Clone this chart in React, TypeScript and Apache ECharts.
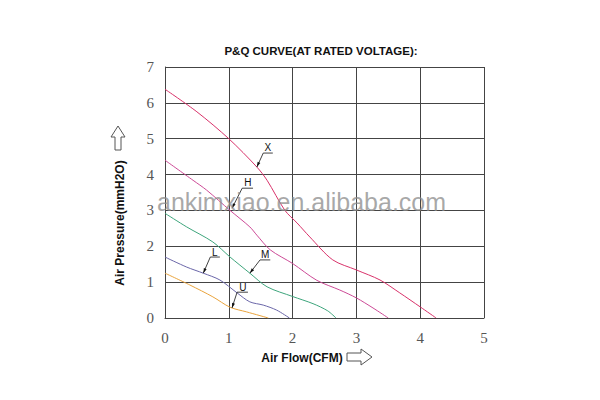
import React, { useEffect, useRef } from "react";
import * as echarts from "echarts";

const xTicks = [0, 1, 2, 3, 4, 5];
const yTicks = [0, 1, 2, 3, 4, 5, 6, 7];

const curveX: [number, number][] = [
  [0, 6.38], [0.5, 5.75], [1.0, 5.0], [1.44, 4.21], [1.6, 3.84], [1.88, 3.0], [2.07, 2.65],
  [2.27, 2.26], [2.63, 1.62], [3.0, 1.34], [3.37, 1.06], [3.68, 0.7], [4.0, 0.31], [4.25, 0.0],
];
const curveH: [number, number][] = [
  [0, 4.4], [0.44, 3.84], [0.65, 3.57], [1.02, 3.0], [1.33, 2.54], [1.44, 2.31], [1.65, 1.9],
  [2.0, 1.52], [2.38, 1.05], [2.74, 0.78], [3.0, 0.56], [3.26, 0.28], [3.5, 0.0],
];
const curveM: [number, number][] = [
  [0, 2.92], [0.34, 2.54], [0.75, 2.12], [1.02, 1.7], [1.33, 1.25], [1.6, 0.87], [2.0, 0.6],
  [2.32, 0.4], [2.55, 0.2], [2.68, 0.0],
];
const curveL: [number, number][] = [
  [0, 1.7], [0.34, 1.42], [0.6, 1.25], [0.86, 1.06], [1.13, 0.7], [1.33, 0.45], [1.54, 0.36],
  [1.75, 0.22], [1.95, 0.0],
];
const curveU: [number, number][] = [
  [0, 1.25], [0.39, 0.92], [0.75, 0.59], [1.02, 0.3], [1.28, 0.17], [1.62, 0.0],
];

const seriesNames = ["X", "H", "M", "L", "U"];
const seriesColors = ["#d8326a", "#cc4a96", "#3ea57c", "#6a66a8", "#e9a33c"];
const seriesData = [curveX, curveH, curveM, curveL, curveU];

// Annotation leaders in data units: anchor on curve, elbow, end; label position
const leaderAnchors: [number, number][] = [[1.44, 4.21], [1.05, 3.06], [1.33, 1.25], [0.6, 1.25], [1.05, 0.28]];
const leaderElbows: [number, number][] = [[1.54, 4.6], [1.21, 3.62], [1.49, 1.62], [0.71, 1.7], [1.13, 0.72]];
const leaderEnds: [number, number][] = [[1.69, 4.6], [1.38, 3.62], [1.65, 1.62], [0.86, 1.7], [1.3, 0.72]];
const labelPositions: [number, number][] = [[1.61, 4.76], [1.3, 3.78], [1.57, 1.76], [0.78, 1.84], [1.22, 0.86]];

export default function App() {
  const ref = useRef<HTMLDivElement>(null);
  useEffect(() => {
    if (!ref.current) return;
    const chart = echarts.init(ref.current, null, { renderer: "svg" });
    const option: any = {
      animation: false,
      backgroundColor: "#ffffff",
      title: {
        text: "P&Q CURVE(AT RATED VOLTAGE):",
        left: 316,
        top: 40,
        textAlign: "center",
        textStyle: { fontFamily: "Liberation Sans", fontWeight: "bold", fontSize: 11.5, color: "#111" },
      },
      grid: { left: 165, right: 116, top: 67, bottom: 82 },
      xAxis: {
        type: "value",
        min: 0,
        max: 5,
        interval: 1,
        axisLine: { show: true, lineStyle: { color: "#444", width: 1 } },
        axisTick: { show: false },
        splitLine: { show: true, lineStyle: { color: "#444", width: 1 } },
        axisLabel: {
          margin: 12,
          fontFamily: "Liberation Serif",
          fontSize: 15,
          color: "#555",
          formatter: (v: number) => (xTicks.includes(v) ? String(v) : ""),
        },
      },
      yAxis: {
        type: "value",
        min: 0,
        max: 7,
        interval: 1,
        axisLine: { show: true, lineStyle: { color: "#444", width: 1 } },
        axisTick: { show: false },
        splitLine: { show: true, lineStyle: { color: "#444", width: 1 } },
        axisLabel: {
          margin: 11,
          fontFamily: "Liberation Serif",
          fontSize: 15,
          color: "#555",
          formatter: (v: number) => (yTicks.includes(v) ? String(v) : ""),
        },
      },
      series: seriesNames.map((n, i) => ({
        name: n,
        type: "line",
        data: seriesData[i],
        smooth: 0.3,
        showSymbol: false,
        lineStyle: { color: seriesColors[i], width: 1 },
        z: 3,
      })),
    };
    chart.setOption(option);

    const px = (p: [number, number]) => chart.convertToPixel({ gridIndex: 0 }, p) as number[];
    const graphics: any[] = [];
    seriesNames.forEach((n, i) => {
      const a = px(leaderAnchors[i]);
      const e = px(leaderElbows[i]);
      const d = px(leaderEnds[i]);
      const l = px(labelPositions[i]);
      graphics.push({
        type: "polyline",
        shape: { points: [a, e, d] },
        style: { stroke: "#111", lineWidth: 0.8, fill: null },
        z: 10,
      });
      const dx = e[0] - a[0];
      const dy = e[1] - a[1];
      const len = Math.sqrt(dx * dx + dy * dy);
      const ux = dx / len;
      const uy = dy / len;
      const hl = 5;
      const hw = 1.5;
      graphics.push({
        type: "polygon",
        shape: {
          points: [
            a,
            [a[0] + ux * hl - uy * hw, a[1] + uy * hl + ux * hw],
            [a[0] + ux * hl + uy * hw, a[1] + uy * hl - ux * hw],
          ],
        },
        style: { fill: "#111" },
        z: 10,
      });
      graphics.push({
        type: "text",
        x: l[0],
        y: l[1],
        style: {
          text: n,
          fontFamily: "Liberation Sans",
          fontSize: 10,
          fill: "#111",
          align: "center",
          verticalAlign: "middle",
        },
        z: 10,
      });
    });
    // watermark
    graphics.push({
      type: "text",
      x: 157,
      y: 202,
      style: {
        text: "ankimxiao.en.alibaba.com",
        fontFamily: "Liberation Sans",
        fontSize: 25,
        fill: "#8c8c8c",
        opacity: 0.75,
        align: "left",
        verticalAlign: "middle",
      },
      z: 20,
    });
    // y axis label
    graphics.push({
      type: "text",
      x: 120,
      y: 223,
      rotation: Math.PI / 2,
      style: {
        text: "Air Pressure(mmH2O)",
        fontFamily: "Liberation Sans",
        fontWeight: "bold",
        fontSize: 12,
        fill: "#111",
        align: "center",
        verticalAlign: "middle",
      },
    });
    // x axis label
    graphics.push({
      type: "text",
      x: 302,
      y: 358,
      style: {
        text: "Air Flow(CFM)",
        fontFamily: "Liberation Sans",
        fontWeight: "bold",
        fontSize: 12,
        fill: "#111",
        align: "center",
        verticalAlign: "middle",
      },
    });
    // up arrow
    graphics.push({
      type: "polygon",
      shape: {
        points: [[118, 126], [125, 137], [121, 137], [121, 150], [115, 150], [115, 137], [111, 137]],
      },
      style: { fill: "#fff", stroke: "#555", lineWidth: 1 },
    });
    // right arrow
    graphics.push({
      type: "polygon",
      shape: {
        points: [[347, 353], [361, 353], [361, 349], [372, 357], [361, 365], [361, 361], [347, 361]],
      },
      style: { fill: "#fff", stroke: "#555", lineWidth: 1 },
    });
    chart.setOption({ graphic: graphics });
    return () => chart.dispose();
  }, []);
  return <div ref={ref} style={{ position: "absolute", left: 0, top: 0, width: 600, height: 400 }} />;
}
